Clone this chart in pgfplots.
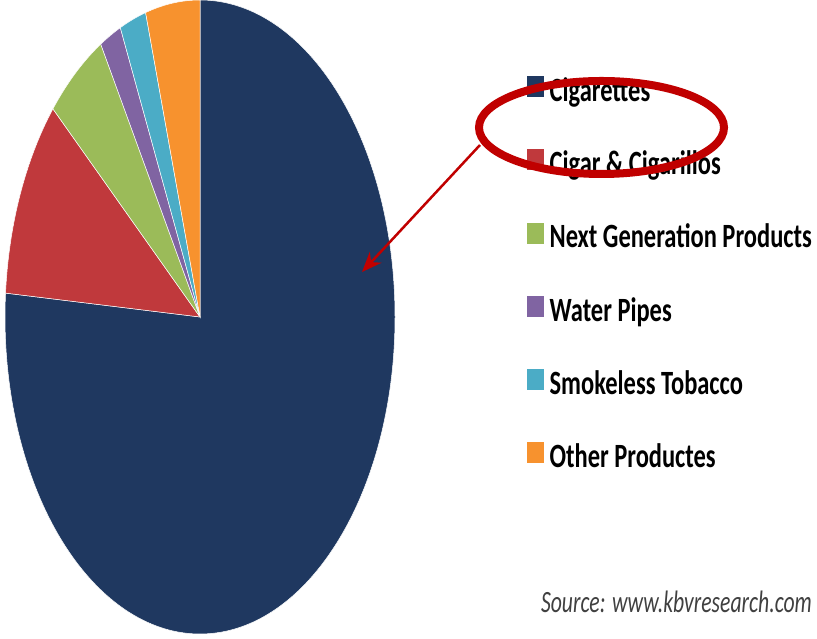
\documentclass[border=0pt]{standalone}
\usepackage{pgfplots}
\usepackage{pgfplotstable}
\usepackage{graphicx}
\usepackage{fontspec}
\setmainfont{Carlito}
\pgfplotsset{compat=1.18}
\usetikzlibrary{arrows.meta}

\definecolor{c0}{HTML}{1F3860}
\definecolor{c1}{HTML}{C0393C}
\definecolor{c2}{HTML}{9BBB59}
\definecolor{c3}{HTML}{8064A2}
\definecolor{c4}{HTML}{4BACC6}
\definecolor{c5}{HTML}{F7922E}
\definecolor{hilite}{HTML}{C00000}

% share of each product type (%), clockwise from 12 o'clock
\pgfplotstableread{
id value
0 76.2
1 10.2
2 5.1
3 1.8
4 2.2
5 4.5
}\piedata

\begin{document}
\begin{tikzpicture}
\path[use as bounding box] (0,0) rectangle (817pt,639pt);

% start / end angle of every slice
\def\cum{0}
\pgfplotsforeachungrouped \i in {0,...,5}{%
  \pgfplotstablegetelem{\i}{value}\of\piedata
  \pgfmathsetmacro\a{90-3.6*\cum}
  \pgfmathsetmacro\cum{\cum+\pgfplotsretval}
  \pgfmathsetmacro\b{90-3.6*\cum}
  \expandafter\xdef\csname sa\i\endcsname{\a}
  \expandafter\xdef\csname ea\i\endcsname{\b}
}

\begin{axis}[
  x=195pt, y=317pt,
  anchor=origin, at={(200pt,322pt)},
  xmin=-1, xmax=1, ymin=-1, ymax=1,
  hide axis,
  legend image code/.code={\fill[#1] (0pt,-3pt) rectangle (16pt,17pt);},
  legend cell align=left,
  legend style={at={(axis cs:1.677,0.76)}, anchor=north west,
    draw=none, fill=none, inner sep=0pt, row sep=40pt,
    font=\fontsize{34}{40}\selectfont\bfseries,
    nodes={inner sep=0pt, text height=24pt, text depth=8pt},
    /tikz/every odd column/.append style={column sep=6pt}},
]
\pgfplotsinvokeforeach{0,...,5}{
  \fill[c#1, draw=white, line width=0.5pt]
    (axis cs:0,0) -- (axis cs:{cos(\csname sa#1\endcsname)},{sin(\csname sa#1\endcsname)})
    arc[start angle=\csname sa#1\endcsname, end angle=\csname ea#1\endcsname,
        x radius=195pt, y radius=317pt] -- cycle;
}
\addlegendimage{c0}\addlegendentry{\scalebox{0.72}[1]{Cigarettes}}
\addlegendimage{c1}\addlegendentry{\scalebox{0.72}[1]{Cigar \& Cigarillos}}
\addlegendimage{c2}\addlegendentry{\scalebox{0.72}[1]{Next Generation Products}}
\addlegendimage{c3}\addlegendentry{\scalebox{0.72}[1]{Water Pipes}}
\addlegendimage{c4}\addlegendentry{\scalebox{0.72}[1]{Smokeless Tobacco}}
\addlegendimage{c5}\addlegendentry{\scalebox{0.72}[1]{Other Productes}}
\end{axis}

% highlight round the first legend entry and the arrow to the pie
\draw[hilite, line width=8pt] (601.5pt,511.5pt) ellipse [x radius=122.5pt, y radius=46.5pt];
\draw[hilite, line width=2.5pt, -{Stealth[length=20pt, width=16pt]}] (480pt,494pt) -- (362pt,367pt);

\node[anchor=base east, font=\fontsize{31}{31}\selectfont\itshape, text=black!75, xscale=0.70, inner sep=0pt]
  at (812pt,26pt) {Source: www.kbvresearch.com};
\end{tikzpicture}
\end{document}
